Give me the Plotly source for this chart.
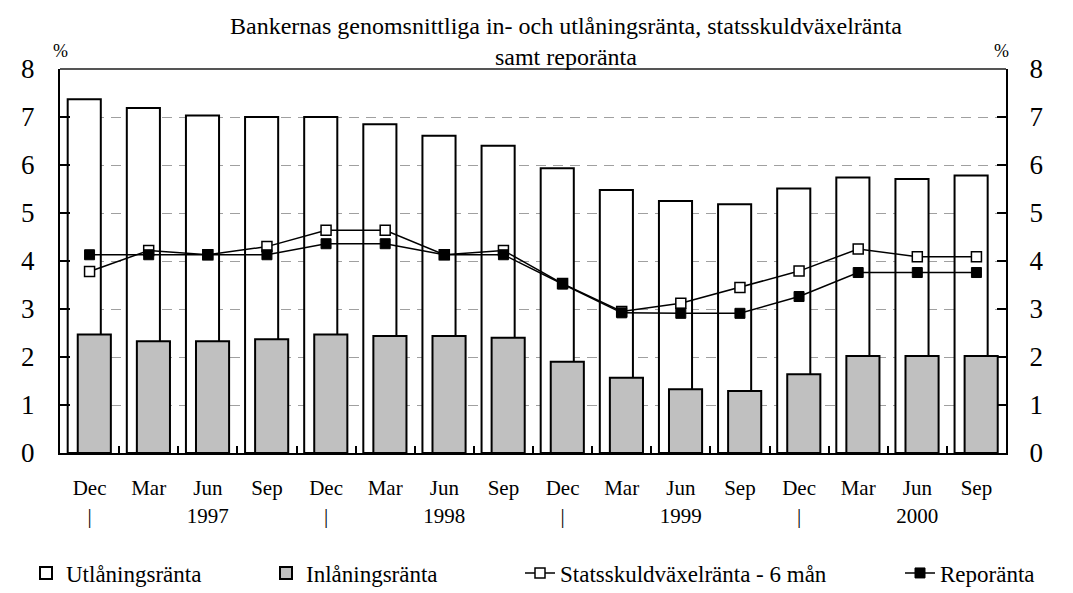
import plotly.graph_objects as go

periods = ["1996-12", "1997-03", "1997-06", "1997-09", "1997-12", "1998-03", "1998-06", "1998-09",
           "1998-12", "1999-03", "1999-06", "1999-09", "1999-12", "2000-03", "2000-06", "2000-09"]
tick_labels = ["Dec<br>|", "Mar", "Jun<br>1997", "Sep", "Dec<br>|", "Mar", "Jun<br>1998", "Sep",
               "Dec<br>|", "Mar", "Jun<br>1999", "Sep", "Dec<br>|", "Mar", "Jun<br>2000", "Sep"]

utlaning = [7.37, 7.19, 7.03, 7.00, 7.00, 6.85, 6.61, 6.40, 5.93, 5.48, 5.25, 5.18, 5.51, 5.74, 5.71, 5.78]
inlaning = [2.47, 2.33, 2.33, 2.37, 2.47, 2.44, 2.44, 2.40, 1.90, 1.57, 1.33, 1.29, 1.64, 2.02, 2.02, 2.02]
statsskuld = [3.78, 4.22, 4.13, 4.30, 4.64, 4.64, 4.13, 4.22, 3.53, 2.95, 3.12, 3.45, 3.79, 4.25, 4.09, 4.09]
repo = [4.13, 4.13, 4.13, 4.13, 4.36, 4.36, 4.13, 4.13, 3.52, 2.92, 2.91, 2.91, 3.26, 3.76, 3.76, 3.76]

FONT = "Liberation Serif, Times New Roman, serif"

fig = go.Figure()
fig.add_bar(x=periods, y=utlaning, name="Utlåningsränta", legend="legend",
            marker=dict(color="white", line=dict(color="black", width=2)),
            width=0.56, offset=-0.37)
fig.add_bar(x=periods, y=inlaning, name="Inlåningsränta", legend="legend2",
            marker=dict(color="#C0C0C0", line=dict(color="black", width=2)),
            width=0.56, offset=-0.2)
fig.add_scatter(x=periods, y=statsskuld, name="Statsskuldväxelränta - 6 mån", yaxis="y2", legend="legend3",
                mode="lines+markers", line=dict(color="black", width=1.5),
                marker=dict(symbol="square", size=10, color="white", line=dict(color="black", width=1.5)))
fig.add_scatter(x=periods, y=repo, name="Reporänta", yaxis="y2", legend="legend4",
                mode="lines+markers", line=dict(color="black", width=1.5),
                marker=dict(symbol="square", size=10, color="black", line=dict(color="black", width=1)))


def leg(text_start):
    return dict(orientation="h", x=(text_start - 50) / 1073, xanchor="left",
                y=1 - 565 / 593, yanchor="middle", xref="container", yref="container",
                font=dict(family=FONT, size=23), bgcolor="rgba(0,0,0,0)")


fig.update_layout(
    width=1073, height=593,
    paper_bgcolor="white", plot_bgcolor="white",
    margin=dict(l=52, r=75, t=61, b=148),
    barmode="overlay",
    font=dict(family=FONT, color="black"),
    xaxis=dict(type="category", tickmode="array", tickvals=periods, ticktext=tick_labels,
               range=[-0.5, 15.5], automargin=False,
               showline=True, linecolor="black", linewidth=2,
               ticks="inside", tickson="boundaries", ticklen=7, tickcolor="black", tickwidth=1.5,
               showgrid=False, tickfont=dict(family=FONT, size=21, color="black"), ticklabelstandoff=15),
    yaxis=dict(range=[0, 8], dtick=1, showline=True, linecolor="black", linewidth=2, automargin=False,
               ticks="inside", ticklen=10, tickcolor="black", tickwidth=1.5,
               showgrid=True, gridcolor="#A0A0A0", griddash="10px,7px", gridwidth=1,
               zeroline=False, tickfont=dict(family=FONT, size=27), ticklabelstandoff=18),
    yaxis2=dict(range=[0, 8], dtick=1, overlaying="y", side="right", automargin=False,
                showline=True, linecolor="black", linewidth=2,
                ticks="inside", ticklen=9, tickcolor="black", tickwidth=1.5,
                showgrid=False, zeroline=False, tickfont=dict(family=FONT, size=27),
                ticklabelstandoff=16),
    legend=leg(68),
    legend2=leg(308),
    legend3=leg(562),
    legend4=leg(942),
    showlegend=True,
)

fig.add_shape(type="line", xref="paper", yref="paper", x0=0, x1=1, y0=1, y1=1,
              line=dict(color="#555555", width=2))

fig.add_annotation(text="Bankernas genomsnittliga in- och utlåningsränta, statsskuldväxelränta<br>samt reporänta",
                   xref="paper", yref="paper", x=(566 - 60) / 946, y=1, yshift=-3,
                   xanchor="center", yanchor="bottom", showarrow=False, align="center",
                   font=dict(family=FONT, size=24, color="black"))

fig.add_annotation(text="%", xref="paper", yref="paper", x=0, y=1, yshift=18,
                   xanchor="center", yanchor="middle", showarrow=False,
                   font=dict(family=FONT, size=18))
fig.add_annotation(text="%", xref="paper", yref="paper", x=1, y=1, xshift=-5, yshift=18,
                   xanchor="center", yanchor="middle", showarrow=False,
                   font=dict(family=FONT, size=18))

fig.write_html("out.html")
